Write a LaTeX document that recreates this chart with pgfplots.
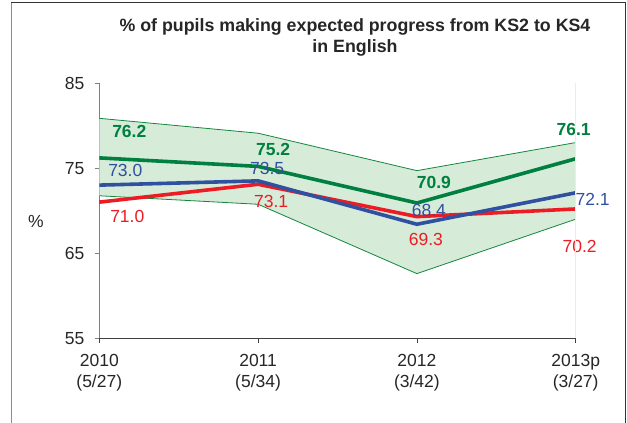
\documentclass[border=0pt]{standalone}
\usepackage{fontspec}
\setmainfont{Liberation Sans}
\usepackage{pgfplots}
\usepackage{pgfplotstable}
\pgfplotsset{compat=1.18}
\definecolor{cgreen}{RGB}{0,128,64}
\definecolor{cblue}{RGB}{48,80,160}
\definecolor{cred}{RGB}{237,28,36}
\definecolor{cband}{RGB}{214,235,216}
\definecolor{cbandline}{RGB}{20,135,60}
\definecolor{ctext}{RGB}{38,38,38}
\newcommand\lab{\fontsize{17.5bp}{21bp}\selectfont}

\pgfplotstableread{
x y dx dy lab
0 76.2 30 26 76.2
1 75.2 15 17 75.2
2 70.9 17 21 70.9
3 76.1 -2 29 76.1
}\greentab
\pgfplotstableread{
x y dx dy lab
0 73.0 26 15 73.0
1 73.5 9 12 73.5
2 68.4 12 14 68.4
3 72.1 17 -7 72.1
}\bluetab
\pgfplotstableread{
x y dx dy lab
0 71.0 28 -14 71.0
1 73.1 13 -17 73.1
2 69.3 9 -23 69.3
3 70.2 4 -38 70.2
}\redtab
\pgfplotstableread{
x upper lower
0 80.85 71.75
1 79.1 70.75
2 74.7 62.6
3 78.0 69.0
}\bandtab

\begin{document}
\begin{tikzpicture}
\useasboundingbox (-99.3bp,-84.7bp) rectangle (527.7bp,338.3bp);
\begin{axis}[
  at={(0,0)}, anchor=south west,
  scale only axis, width=476.4bp, height=255.3bp,
  xmin=0, xmax=3, ymin=55, ymax=85,
  clip=false,
  axis x line=bottom, axis y line=left,
  x axis line style={-, draw=black!75, line width=0.8bp},
  y axis line style={-, draw=black!50, line width=0.8bp},
  xtick={0,1,2,3},
  xticklabels={{2010\\(5/27)},{2011\\(5/34)},{2012\\(3/42)},{2013p\\(3/27)}},
  ytick={55,65,75,85},
  tick align=outside,
  major tick length=4.5bp,
  x tick style={draw=black!75, line width=0.8bp},
  y tick style={draw=black!50, line width=0.8bp},
  tick label style={font=\lab, color=ctext},
  xticklabel style={align=center, yshift=-8bp},
  yticklabel style={xshift=-7bp},
  /pgf/number format/assume math mode=true,
  ylabel={\%},
  ylabel style={rotate=-90, at={(axis description cs:0,0)}, anchor=center, xshift=-63.3bp, yshift=116.6bp, font=\lab, color=ctext},
]
\addplot[fill=cband, draw=none] coordinates {(0,80.85)(1,79.1)(2,74.7)(3,78.0)(3,69.0)(2,62.6)(1,70.75)(0,71.75)} -- cycle;
\addplot[cbandline, line width=0.8bp] table[x=x,y=upper]{\bandtab};
\addplot[cbandline, line width=0.8bp] table[x=x,y=lower]{\bandtab};
\addplot[cred, line width=3.6bp] table[x=x,y=y]{\redtab};
\addplot[cblue, line width=3.6bp] table[x=x,y=y]{\bluetab};
\addplot[cgreen, line width=3.6bp] table[x=x,y=y]{\greentab};
\addplot[draw=none, point meta=explicit symbolic,
  visualization depends on={\thisrow{dx}\as\dx},
  visualization depends on={\thisrow{dy}\as\dy},
  nodes near coords,
  every node near coord/.style={anchor=center, xshift=\dx bp, yshift=\dy bp, text=cgreen, font=\lab\bfseries, inner sep=0pt}]
  table[x=x,y=y,meta=lab]{\greentab};
\addplot[draw=none, point meta=explicit symbolic,
  visualization depends on={\thisrow{dx}\as\dx},
  visualization depends on={\thisrow{dy}\as\dy},
  nodes near coords,
  every node near coord/.style={anchor=center, xshift=\dx bp, yshift=\dy bp, text=cblue, font=\lab, inner sep=0pt}]
  table[x=x,y=y,meta=lab]{\bluetab};
\addplot[draw=none, point meta=explicit symbolic,
  visualization depends on={\thisrow{dx}\as\dx},
  visualization depends on={\thisrow{dy}\as\dy},
  nodes near coords,
  every node near coord/.style={anchor=center, xshift=\dx bp, yshift=\dy bp, text=cred, font=\lab, inner sep=0pt}]
  table[x=x,y=y,meta=lab]{\redtab};
\end{axis}
\draw[black!8, line width=0.8bp] (476.4bp,0) -- (476.4bp,255.3bp);
\node[anchor=base, font=\fontsize{17.8bp}{21bp}\selectfont\bfseries, text=ctext, inner sep=0pt] at (255.7bp,306.3bp) {\% of pupils making expected progress from KS2 to KS4};
\node[anchor=base, font=\fontsize{17.8bp}{21bp}\selectfont\bfseries, text=ctext, inner sep=0pt] at (255.7bp,285.3bp) {in English};
\draw[black!45, line width=1bp] (-87.3bp,-84.7bp) -- (-87.3bp,335.3bp);
\draw[black!80, line width=1bp] (-87.8bp,335.3bp) -- (525.7bp,335.3bp) -- (525.7bp,-84.7bp);
\end{tikzpicture}
\end{document}
